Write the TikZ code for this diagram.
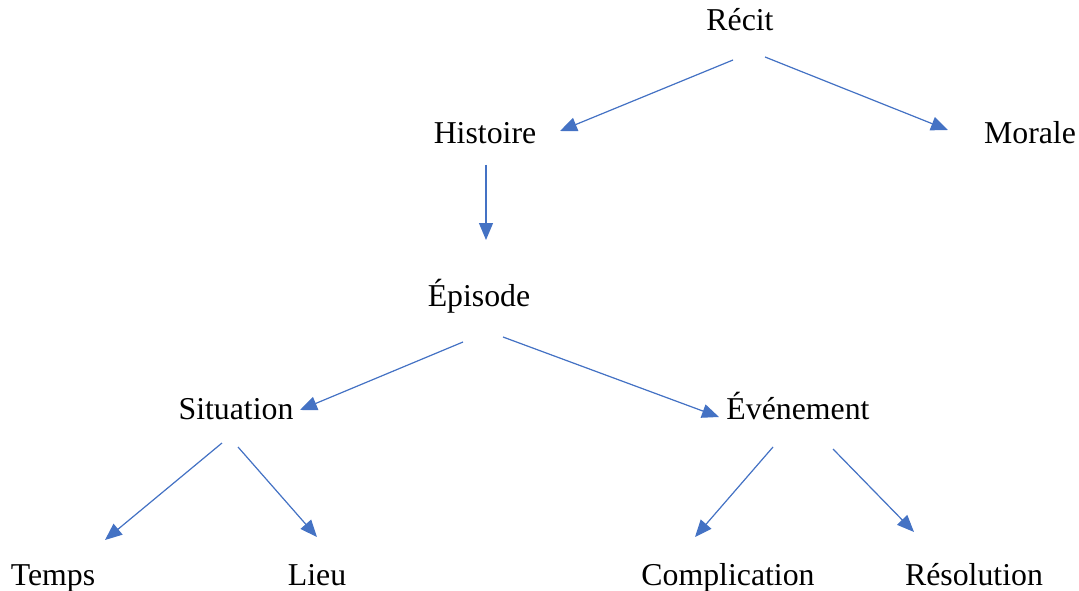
\documentclass[tikz,border=0pt]{standalone}
\usepackage{fontspec}
\setmainfont{Liberation Serif}
\usetikzlibrary{arrows.meta}
\definecolor{arrowblue}{HTML}{4472C4}
\begin{document}
\begin{tikzpicture}[x=1pt,y=-1pt,
  lbl/.style={anchor=base,inner sep=0pt,font=\fontsize{31.8}{38}\selectfont},
  link/.style={draw=arrowblue,line width=1.2pt,-{Triangle[length=17pt,width=14pt]},fill=arrowblue}]
\useasboundingbox (0,0) rectangle (1079,591);
% labels
\node[lbl] (recit) at (740,31) {Récit};
\node[lbl] (histoire) at (485,144) {Histoire};
\node[lbl] (morale) at (1030,144) {Morale};
\node[lbl] (episode) at (479,306) {Épisode};
\node[lbl] (situation) at (236,419) {Situation};
\node[lbl] (evenement) at (798,419) {Événement};
\node[lbl] (temps) at (53,585) {Temps};
\node[lbl] (lieu) at (317,585) {Lieu};
\node[lbl] (complication) at (728,585) {Complication};
\node[lbl] (resolution) at (974,585) {Résolution};
% connector ends
\coordinate (a1) at (733,60);  \coordinate (b1) at (560,131);
\coordinate (a2) at (765,57);  \coordinate (b2) at (948,130);
\coordinate (a3) at (486,165); \coordinate (b3) at (486,240);
\coordinate (a4) at (463,342); \coordinate (b4) at (300,410);
\coordinate (a5) at (503,337); \coordinate (b5) at (719,417);
\coordinate (a6) at (222,443); \coordinate (b6) at (105,540);
\coordinate (a7) at (238,447); \coordinate (b7) at (317,537);
\coordinate (a8) at (773,447); \coordinate (b8) at (695,537);
\coordinate (a9) at (833,449); \coordinate (b9) at (914,532);
\draw[link] (a1) -- (b1);
\draw[link] (a2) -- (b2);
\draw[link] (a3) -- (b3);
\draw[link] (a4) -- (b4);
\draw[link] (a5) -- (b5);
\draw[link] (a6) -- (b6);
\draw[link] (a7) -- (b7);
\draw[link] (a8) -- (b8);
\draw[link] (a9) -- (b9);
\end{tikzpicture}
\end{document}
